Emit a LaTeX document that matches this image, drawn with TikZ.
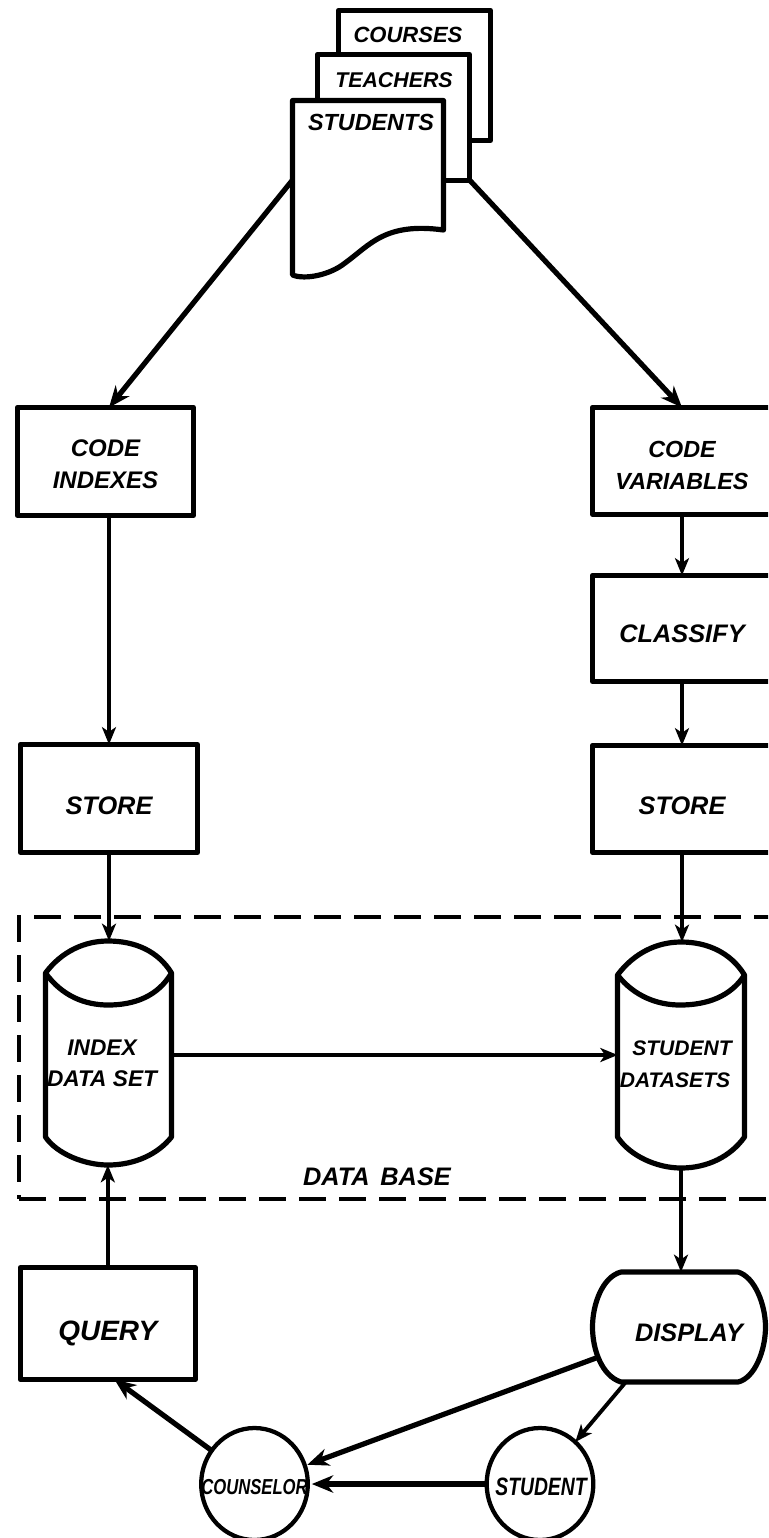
\documentclass[tikz,border=0pt]{standalone}
\usepackage{fontspec}
\setmainfont{Liberation Sans}
\usetikzlibrary{arrows.meta,shapes.geometric}
\newcommand{\lab}[1]{\fontsize{#1}{24pt}\selectfont\bfseries\itshape}
\newcommand{\dn}[1]{\rule{0pt}{\dimexpr 0.72em+2\dimexpr #1\relax\relax}}
\tikzset{
  x=0.75pt,y=-0.75pt,
  ink/.style={draw=black,line width=3.9pt,line join=round},
  boxnode/.style={ink,fill=white,rectangle,inner sep=0pt,outer sep=0pt,align=center,anchor=north west},
  docpage/.style={ink,fill=white},
  outline/.style={ink,fill=white},
  bounds/.style={rectangle,inner sep=0pt,outer sep=0pt,draw=none},
  bubble/.style={draw=black,line width=3.2pt,fill=white,ellipse,inner sep=0pt,outer sep=0pt,minimum width=80pt,minimum height=84pt},
  txt/.style={inner sep=0pt,align=center,text=black},
  flow/.style={draw=black,line width=2.9pt,-{Stealth[length=13pt,width=10.5pt,inset=3.5pt]}},
  heavyflow/.style={draw=black,line width=3.9pt,-{Stealth[length=16pt,width=13pt,inset=5pt]}},
  frame/.style={draw=black,line width=3.6pt,dash pattern=on 20pt off 10pt}
}
\begin{document}
\begin{tikzpicture}
\useasboundingbox (0,0) rectangle (768,1538);
\clip (0,0) rectangle (768,1538);
\fill[white] (0,0) rectangle (768,1538);
% data base frame
\node[frame,rectangle,inner sep=0pt,outer sep=0pt,anchor=north west,minimum width=585pt,minimum height=211.5pt] (dbframe) at (19,917) {};
\node[txt,font=\lab{19pt}] (dblabel) at (377,1177) {DATA\hspace{8pt}BASE};
% documents
\draw[docpage] (338.5,10.5) rectangle (490.5,140.5);
\draw[docpage] (317.5,54.5) rectangle (469.5,180.5);
\draw[docpage] (292.5,100.5) -- (443.5,100.5) -- (443.5,230) .. controls (385,222) and (370,245) .. (345,263) .. controls (330,275) and (305,280) .. (292.5,275) -- cycle;
\node[txt,font=\lab{16.5pt}] (courses) at (408,35) {COURSES};
\node[txt,font=\lab{16pt}] (teachers) at (394,80) {TEACHERS};
\node[txt,font=\lab{17.5pt}] (students) at (371,122) {STUDENTS};
\coordinate (docL) at (292.5,180);
\coordinate (docR) at (469.5,180);
% process boxes
\node[boxnode,minimum width=132pt,minimum height=81pt,font=\lab{18pt}] (cidx) at (17.5,407.5) {\dn{2pt}CODE\\INDEXES};
\node[boxnode,minimum width=134.25pt,minimum height=80pt,font=\lab{17.5pt}] (cvar) at (592.5,407.5) {\dn{3.5pt}CODE\\VARIABLES};
\node[boxnode,minimum width=134.25pt,minimum height=79.5pt,font=\lab{19pt}] (classify) at (592.5,575.5) {\dn{3.4pt}CLASSIFY};
\node[boxnode,minimum width=132.75pt,minimum height=81pt,font=\lab{19pt}] (storeL) at (20.5,744.5) {\dn{5.5pt}STORE};
\node[boxnode,minimum width=134.25pt,minimum height=80pt,font=\lab{19pt}] (storeR) at (592.5,745.5) {\dn{5pt}STORE};
\node[boxnode,minimum width=131pt,minimum height=84pt,font=\lab{21pt}] (query) at (20.5,1267.5) {\dn{7pt}QUERY};
% cylinders
\draw[outline] (45.5,973) .. controls (62,951) and (85,941) .. (108,941) .. controls (135,941) and (158,951) .. (171.5,973) -- (171.5,1137) .. controls (158,1154) and (135,1165) .. (108,1165) .. controls (85,1165) and (57,1154) .. (45.5,1137) -- cycle;
\draw[ink] (45.5,973) .. controls (62,996) and (85,1005) .. (108,1005) .. controls (135,1005) and (158,996) .. (171.5,973);
\node[bounds,minimum width=94.5pt,minimum height=168pt] (idx) at (108.5,1053) {};
\node[txt,font=\lab{17pt}] (idxlabel) at (102,1063) {INDEX\\[-1pt]DATA SET};
\draw[outline] (617.5,975) .. controls (634,953) and (657,942) .. (681,942) .. controls (708,942) and (731,953) .. (744.5,975) -- (744.5,1137) .. controls (731,1156) and (708,1168) .. (681,1168) .. controls (657,1168) and (630,1156) .. (617.5,1137) -- cycle;
\draw[ink] (617.5,975) .. controls (634,996) and (657,1005) .. (680,1005) .. controls (708,1005) and (731,996) .. (744.5,975);
\node[bounds,minimum width=95pt,minimum height=169.5pt] (stu) at (681,1055) {};
\node[txt,font=\lab{15.8pt}] (stulabel1) at (682,1048) {STUDENT};
\node[txt,font=\lab{15.8pt}] (stulabel2) at (675,1080) {DATASETS};
% display
\draw[outline] (621,1272) -- (738,1272) .. controls (755,1277) and (765.5,1305) .. (765.5,1327) .. controls (765.5,1350) and (755,1378) .. (738,1382) -- (621,1382) .. controls (602,1376) and (592.5,1350) .. (592.5,1327) .. controls (592.5,1305) and (602,1277) .. (621,1272) -- cycle;
\node[bounds,minimum width=129.75pt,minimum height=82.5pt] (disp) at (679,1327) {};
\node[txt,font=\lab{19pt}] (displabel) at (689,1333) {DISPLAY};
\coordinate (dispL) at (596,1358);
\coordinate (dispB) at (625,1383);
% people
\node[bubble] (couns) at (254.5,1484) {};
\node[txt,font=\lab{12.5pt}] (counslabel) at (254.5,1487) {\scalebox{1}[1.3]{COUNSELOR}};
\node[bubble] (stud) at (540,1484) {};
\node[txt,font=\lab{14.5pt}] (studlabel) at (541,1487) {\scalebox{1}[1.3]{STUDENT}};
% connectors
\draw[heavyflow] (docL) -- (cidx.north -| storeL.north);
\draw[heavyflow] (docR) -- (cvar.north);
\draw[flow] (cidx.south -| storeL.north) -- (storeL.north);
\draw[flow] (cvar.south) -- (classify.north);
\draw[flow] (classify.south) -- (storeR.north);
\draw[flow] (storeL.south) -- (storeL.south |- idx.north);
\draw[flow] (storeR.south) -- (storeR.south |- stu.north);
\draw[flow] (idx.east |- stu.west) -- (stu.west);
\draw[flow] (stu.south) -- (stu.south |- disp.north);
\draw[flow] (query.north) -- (query.north |- idx.south);
\draw[heavyflow,shorten >=2pt] (dispL) -- (couns.20);
\draw[flow] (dispB) -- (stud.50);
\draw[heavyflow,shorten >=3pt] (stud.west) -- (couns.east);
\draw[heavyflow] (couns.142) -- ([xshift=5pt]query.south);
\end{tikzpicture}
\end{document}
